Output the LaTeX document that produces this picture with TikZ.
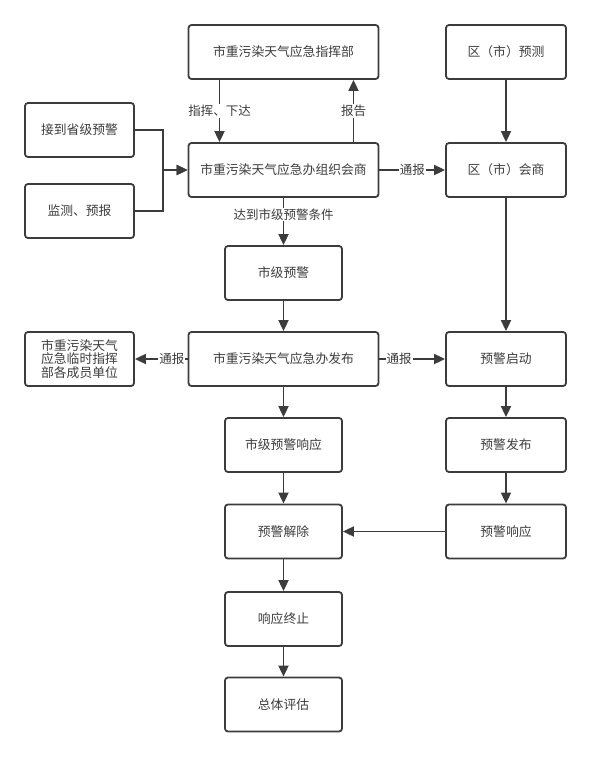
\documentclass[tikz,border=0pt]{standalone}
\usepackage{fontspec}
\usepackage{xcolor}
\usepackage{tikz}
\usetikzlibrary{arrows.meta,positioning,calc}
\newfontfamily\cjk{Noto Sans CJK SC}
\definecolor{inkgray}{RGB}{60,60,60}

\begin{document}
\begin{tikzpicture}[
    x=1pt, y=-1pt,
    box/.style={draw=inkgray, rounded corners=3pt, line width=1.8pt, minimum height=54pt, font=\cjk\fontsize{12.8}{15.5}\selectfont, text=inkgray, align=center, inner sep=2pt},
    widebox/.style={box, minimum width=190pt},
    sidebox/.style={box, minimum width=109pt},
    midbox/.style={box, minimum width=117pt},
    rightbox/.style={box, minimum width=120pt},
    arr/.style={-{Triangle[length=11pt,width=10pt]}, line width=1.8pt, inkgray},
    lbl/.style={fill=white, font=\cjk\fontsize{12.5}{15}\selectfont, text=inkgray, inner sep=1pt},
]
\useasboundingbox (0,0) rectangle (591,757);

% === Top row ===
\node[widebox] (cmd) at (283.5, 52) {市重污染天气应急指挥部};
\node[rightbox] (qyc) at (506, 52) {区（市）预测};

% === Inputs and consultation ===
\node[sidebox] (sheng) at (79.5, 130) {接到省级预警};
\node[sidebox] (jcyb) at (79.5, 211) {监测、预报};
\node[widebox] (hs) at (283.5, 170) {市重污染天气应急办组织会商};
\node[rightbox] (qhs) at (506, 170) {区（市）会商};

% === City warning ===
\node[midbox] (sjyj) at (283.5, 273) {市级预警};
\node[widebox] (fb) at (283.5, 359) {市重污染天气应急办发布};
\node[sidebox] (lszh) at (79.5, 359) {市重污染天气\\[-2pt]应急临时指挥\\[-2pt]部各成员单位};
\node[rightbox] (qd) at (506, 359) {预警启动};

% === Response chain ===
\node[midbox] (sjxy) at (283.5, 445) {市级预警响应};
\node[rightbox] (yjfb) at (506, 445) {预警发布};
\node[midbox] (jc) at (283.5, 531.5) {预警解除};
\node[rightbox] (yjxy) at (506, 531.5) {预警响应};
\node[midbox] (zz) at (283.5, 619) {响应终止};
\node[midbox] (pg) at (283.5, 704.5) {总体评估};

% === Connectors ===
\draw[arr] (sheng.east) -- ++(28,0) |- (hs.west);
\draw[arr] (jcyb.east) -- ++(28,0) |- (hs.west);
\draw[arr] ([xshift=-64pt]cmd.south) -- node[lbl] {指挥、下达} ([xshift=-64pt]hs.north);
\draw[arr] ([xshift=70pt]hs.north) -- node[lbl] {报告} ([xshift=70pt]cmd.south);
\draw[arr] (hs.east) -- node[lbl] {通报} (qhs.west);
\draw[arr] (qyc) -- (qhs);
\draw[arr] (hs.south) -- node[lbl, pos=0.35] {达到市级预警条件} (sjyj.north);
\draw[arr] (sjyj) -- (fb);
\draw[arr] (fb.west) -- node[lbl, pos=0.3] {通报} (lszh.east);
\draw[arr] (fb.east) -- node[lbl, pos=0.3] {通报} (qd.west);
\draw[arr] (qhs) -- (qd);
\draw[arr] (fb) -- (sjxy);
\draw[arr] (sjxy) -- (jc);
\draw[arr] (qd) -- (yjfb);
\draw[arr] (yjfb) -- (yjxy);
\draw[arr] (yjxy) -- (jc);
\draw[arr] (jc) -- (zz);
\draw[arr] (zz) -- (pg);

\end{tikzpicture}
\end{document}
